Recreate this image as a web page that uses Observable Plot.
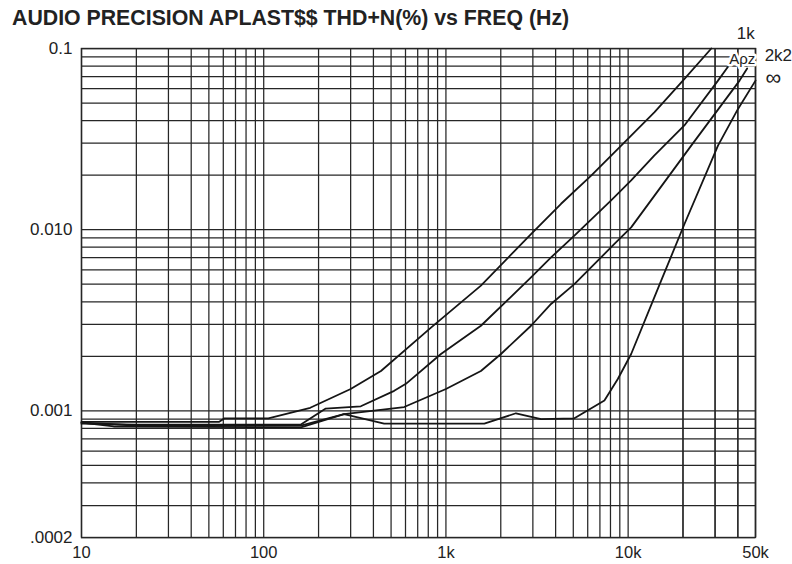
<!DOCTYPE html>
<html><head><meta charset="utf-8">
<script src="https://cdn.jsdelivr.net/npm/d3@7"></script>
<script src="https://cdn.jsdelivr.net/npm/@observablehq/plot@0.6"></script>
<style>
body{margin:0;background:#fff;font-family:"Liberation Sans",Arial,sans-serif;}
#title{height:20px;line-height:36px;padding-left:12px;font-size:21.3px;font-weight:bold;color:#222;white-space:nowrap;overflow:visible;}
#chart svg{overflow:visible;display:block;}
</style></head><body>
<div id="title">AUDIO PRECISION APLAST$$ THD+N(%) vs FREQ (Hz)</div>
<div id="chart"></div>
<script>
// Tick values and labels
const freqTicks = [10, 100, 1000, 10000, 50000];
const freqTickLabels = ["10", "100", "1k", "10k", "50k"];
const thdTicks = [0.1, 0.01, 0.001, 0.0002];
const thdTickLabels = ["0.1", "0.010", "0.001", ".0002"];

// Series: [frequency Hz, THD+N %]
const curve1k = [[10,0.00087],[30,0.00087],[57,0.00087],[61,0.00091],[106,0.00091],[180,0.00104],[300,0.00132],[440,0.00166],[828,0.00288],[1556,0.00491],[2931,0.00946],[4285,0.0139],[6266,0.0199],[9158,0.0291],[13960,0.0445],[20380,0.068],[28600,0.1]];
const curve2k2 = [[10,0.00085],[20,0.00084],[160,0.00084],[219,0.00103],[341,0.00106],[520,0.00129],[603,0.00141],[939,0.00206],[1556,0.00295],[2931,0.00545],[3775,0.00703],[5070,0.00927],[8066,0.0145],[10390,0.0187],[13900,0.0256],[20350,0.0376],[31120,0.0665],[35400,0.0795]];
const curveC = [[10,0.00086],[20,0.00083],[160,0.00083],[276,0.00096],[590,0.00105],[1000,0.00132],[1556,0.00166],[2005,0.00206],[2931,0.00295],[3775,0.00389],[5070,0.00501],[8408,0.00834],[10390,0.0103],[22190,0.0291],[40880,0.0665],[45000,0.0775]];
const curveInf = [[10,0.00086],[15,0.00082],[160,0.00081],[276,0.00096],[458,0.00085],[1624,0.00085],[2424,0.00097],[3326,0.0009],[5070,0.00091],[7410,0.00114],[8777,0.0015],[10390,0.00206],[15180,0.00523],[20380,0.01075],[31120,0.0291],[40080,0.0464],[50000,0.0665]];

// Annotation labels (anchored in data space)
const curveLabels = [
  {label: "1k", f: 44220, v: 0.121, size: 17},
  {label: "2k2", f: 66730, v: 0.0915, size: 17},
  {label: "\u221E", f: 62620, v: 0.0692, size: 22}
];
const logoLabel = [{label: "A\u03C1z", f: 42310, v: 0.087}];

const series = [
  ["1k", curve1k], ["2k2", curve2k2], ["c", curveC], ["inf", curveInf]
].flatMap(([name, pts]) => pts.map(([f, v]) => ({name, f, v})));

const xTickData = freqTicks.map((f, i) => ({f, label: freqTickLabels[i]}));
const yTickData = thdTicks.map((v, i) => ({v, label: thdTickLabels[i]}));

// grid lines at 1..9 per decade
const gridFreqs = [];
for (let d = 10; d <= 10000; d *= 10) for (let m = 1; m <= 9; m++) if (d*m <= 50000) gridFreqs.push(d*m);
gridFreqs.push(20000, 30000, 40000, 50000);
const gridThds = [];
for (let d = 0.0001; d < 0.1; d *= 10) for (let m = 1; m <= 9; m++) { const v = +(d*m).toPrecision(3); if (v >= 0.0002 && v <= 0.1) gridThds.push(v); }
gridThds.push(0.1);

const ink = "#262626";
const chart = Plot.plot({
  width: 792, height: 544,
  marginTop: 28, marginBottom: 27, marginLeft: 81, marginRight: 37,
  style: {fontFamily: "'Liberation Sans', Arial, sans-serif", fontSize: "17px", color: "#222", background: "white", overflow: "visible"},
  x: {type: "log", domain: [10, 50000], axis: null},
  y: {type: "log", domain: [0.0002, 0.1], axis: null},
  marks: [
    Plot.ruleX(gridFreqs, {stroke: ink, strokeWidth: 1.25}),
    Plot.ruleY(gridThds, {stroke: ink, strokeWidth: 1.25}),
    Plot.frame({stroke: ink, strokeWidth: 1.4}),
    Plot.line(series, {x: "f", y: "v", z: "name", stroke: "#151515", strokeWidth: 1.8}),
    Plot.text(xTickData, {x: "f", frameAnchor: "bottom", text: "label", lineAnchor: "top", dy: 9, fontSize: 16.5, fill: "#222"}),
    Plot.text(yTickData, {y: "v", frameAnchor: "left", text: "label", textAnchor: "end", dx: -9, fontSize: 17, fill: "#222"}),
    Plot.text(curveLabels, {x: "f", y: "v", text: "label", fontSize: d => d.size, fill: "#222"}),
    Plot.text(logoLabel, {x: "f", y: "v", text: "label", fontSize: 15, fill: "#222", stroke: "white", strokeWidth: 5})
  ]
});
document.getElementById("chart").append(chart);
</script></body></html>
